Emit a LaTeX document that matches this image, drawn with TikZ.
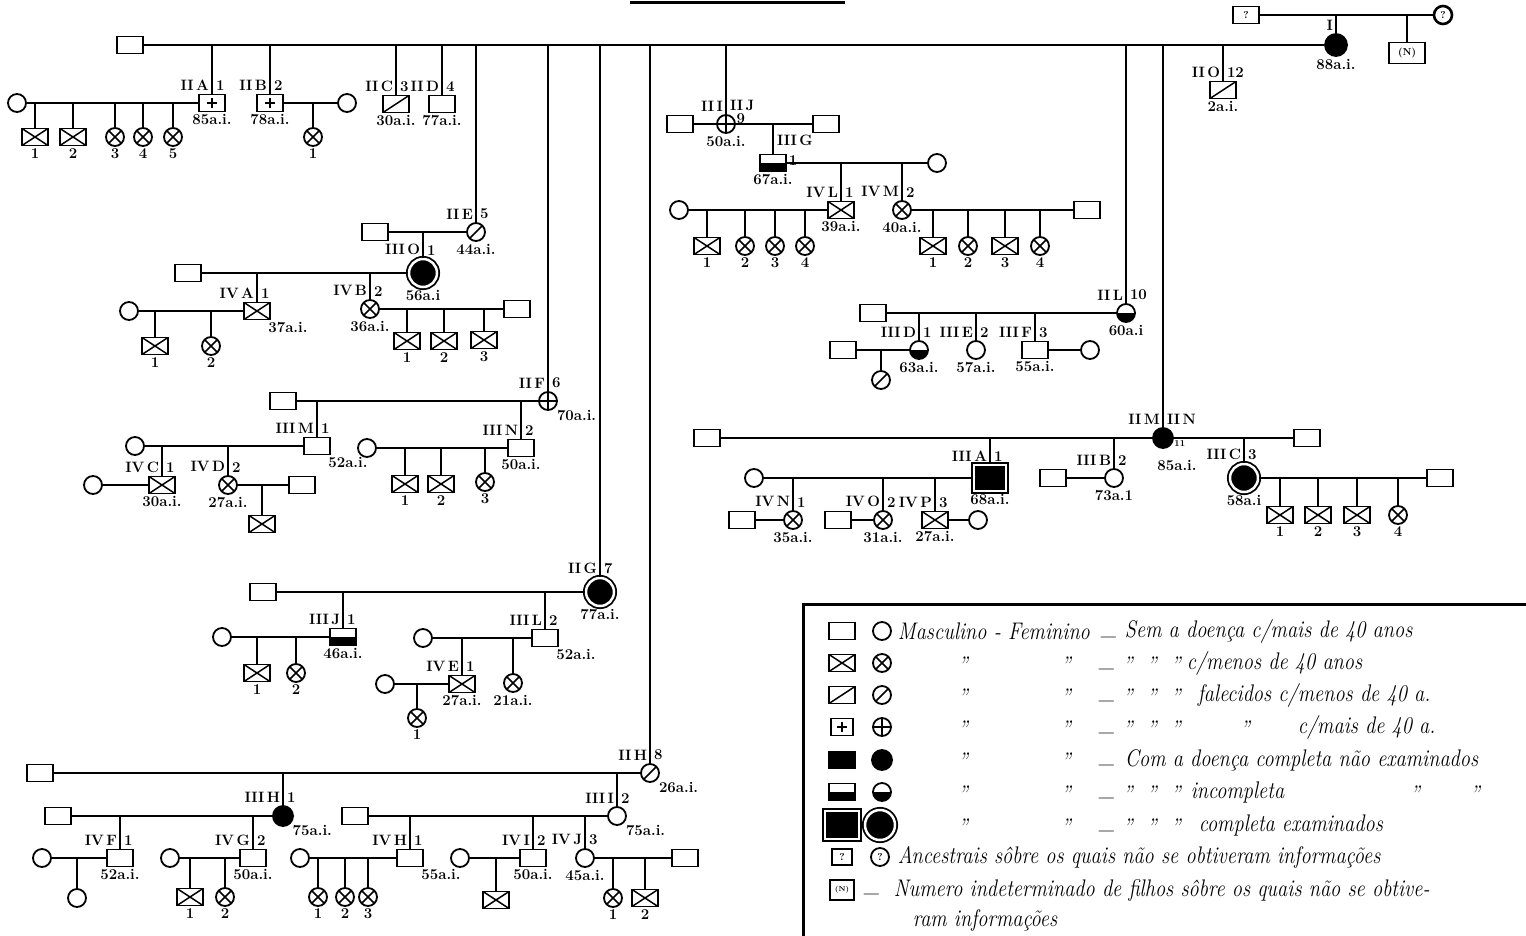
\documentclass[tikz,border=0pt]{standalone}
\usepackage{tikz}

\begin{document}
\begin{tikzpicture}[x=1pt, y=-1pt, line width=2,
  sq/.style={draw, line width=1.8, minimum width=26, minimum height=17, inner sep=0, font=\bfseries},
  ci/.style={draw, line width=1.8, circle, minimum size=18, inner sep=0, font=\bfseries},
  menos/.style={path picture={\draw[line width=1.5] (path picture bounding box.north west) -- (path picture bounding box.south east) (path picture bounding box.south west) -- (path picture bounding box.north east);}},
  morto/.style={path picture={\draw[line width=1.5] (path picture bounding box.south west) -- (path picture bounding box.north east);}},
  maism/.style={path picture={\draw[line width=1.5] ([xshift=-5]path picture bounding box.center) -- ([xshift=5]path picture bounding box.center) ([yshift=-5]path picture bounding box.center) -- ([yshift=5]path picture bounding box.center);}},
  maisf/.style={path picture={\draw[line width=1.5] (path picture bounding box.west) -- (path picture bounding box.east) (path picture bounding box.north) -- (path picture bounding box.south);}},
  doente/.style={fill=black},
  incomp/.style={path picture={\fill (path picture bounding box.west) rectangle (path picture bounding box.south east);}},
  exam/.style={fill=black, double=white, double distance=2.5, line width=1.8},
  lbl/.style={font=\fontsize{15}{16}\selectfont\bfseries, inner sep=1},
  gen/.style={label={[lbl, anchor=south east, xshift=-1, yshift=1]90:#1}},
  num/.style={label={[lbl, anchor=south west, xshift=2, yshift=1]90:#1}},
  age/.style={label={[lbl]-90:#1}},
  ager/.style={label={[lbl, anchor=north west]-45:#1}},
  leg/.style={font=\fontsize{24}{26}\selectfont\itshape, anchor=west, inner sep=0, xscale=0.85},
  dit/.style={leg, anchor=center}]
\useasboundingbox (0,0) rectangle (1526,935);
\draw[line width=3] (630,2) -- (845,2);

% geracao I e ancestrais
\node[sq] (q1) at (1246,15) {?};
\node[ci, line width=2.6] (q2) at (1443,15) {?};
\node[sq, minimum width=36, minimum height=21] (nn) at (1407,53) {(N)};
\node[ci, doente, minimum size=22, gen=I, age=88a.i.] (n1) at (1336,45) {};
\node[sq] (h0) at (130,45) {};
\draw (q1) -- (q2) (n1) -- (n1 |- q1) (nn) -- (nn |- q1);
\draw (h0) -- (n1);

% II A
\node[sq, maism, gen=II\,A, num=1, age=85a.i.] (n2a) at (212,103) {};
\node[ci] (c2a) at (17,103) {};
\node[sq, menos, age=1] (f2a1) at (35,137) {};
\node[sq, menos, age=2] (f2a2) at (73,137) {};
\node[ci, menos, age=3] (f2a3) at (115,137) {};
\node[ci, menos, age=4] (f2a4) at (143,137) {};
\node[ci, menos, age=5] (f2a5) at (173,137) {};
\draw (c2a) -- (n2a) (n2a) -- (n2a |- h0);
\draw (f2a1) -- (f2a1 |- c2a) (f2a2) -- (f2a2 |- c2a) (f2a3) -- (f2a3 |- c2a) (f2a4) -- (f2a4 |- c2a) (f2a5) -- (f2a5 |- c2a);

% II B, II C, II D
\node[sq, maism, gen=II\,B, num=2, age=78a.i.] (n2b) at (270,103) {};
\node[ci] (c2b) at (347,103) {};
\node[ci, menos, age=1] (f2b1) at (313,137) {};
\draw (n2b) -- (c2b) (n2b) -- (n2b |- h0) (f2b1) -- (f2b1 |- c2b);
\node[sq, morto, gen=II\,C, num=3, age=30a.i.] (n2c) at (396,104) {};
\node[sq, gen=II\,D, num=4, age=77a.i.] (n2d) at (442,104) {};
\draw (n2c) -- (n2c |- h0) (n2d) -- (n2d |- h0);

% II E
\node[ci, morto, gen=II\,E, num=5, age=44a.i.] (n2e) at (476,232) {};
\node[sq] (c2e) at (375,232) {};
\draw (c2e) -- (n2e) (n2e) -- (n2e |- h0);
\node[ci, exam, minimum size=28, gen=III\,O, num=1, age=56a.i] (n3o) at (423,273) {};
\node[sq] (c3o) at (188,273) {};
\draw (c3o) -- (n3o) (n3o) -- (n3o |- c2e);
\node[sq, menos, gen=IV\,A, num=1, ager=37a.i.] (n4a) at (257,311) {};
\node[ci] (c4a) at (129,311) {};
\node[sq, menos, age=1] (f4a1) at (155,346) {};
\node[ci, menos, age=2] (f4a2) at (211,346) {};
\draw (c4a) -- (n4a) (n4a) -- (n4a |- c3o) (f4a1) -- (f4a1 |- c4a) (f4a2) -- (f4a2 |- c4a);
\node[ci, menos, gen=IV\,B, num=2, age=36a.i.] (n4b) at (370,309) {};
\node[sq] (c4b) at (517,309) {};
\node[sq, menos, age=1] (f4b1) at (407,341) {};
\node[sq, menos, age=2] (f4b2) at (444,341) {};
\node[sq, menos, age=3] (f4b3) at (484,340) {};
\draw (n4b) -- (c4b) (n4b) -- (n4b |- c3o);
\draw (f4b1) -- (f4b1 |- c4b) (f4b2) -- (f4b2 |- c4b) (f4b3) -- (f4b3 |- c4b);

% II F
\node[ci, maisf, gen=II\,F, num=6, ager=70a.i.] (n2f) at (548,401) {};
\node[sq] (c2f) at (283,401) {};
\draw (c2f) -- (n2f) (n2f) -- (n2f |- h0);
\node[sq, gen=III\,M, num=1, ager=52a.i.] (n3m) at (317,446) {};
\node[ci] (c3m) at (135,446) {};
\draw (c3m) -- (n3m) (n3m) -- (n3m |- c2f);
\node[sq, menos, gen=IV\,C, num=1, age=30a.i.] (n4c) at (162,485) {};
\node[ci] (c4c) at (93,485) {};
\node[ci, menos, gen=IV\,D, num=2, age=27a.i.] (n4d) at (228,485) {};
\node[sq] (c4d) at (302,485) {};
\node[sq, menos] (f4d1) at (262,524) {};
\draw (c4c) -- (n4c) (n4c) -- (n4c |- c3m) (n4d) -- (c4d) (n4d) -- (n4d |- c3m) (f4d1) -- (f4d1 |- c4d);
\node[sq, gen=III\,N, num=2, age=50a.i.] (n3n) at (521,448) {};
\node[ci] (c3n) at (367,448) {};
\node[sq, menos, age=1] (f3n1) at (405,484) {};
\node[sq, menos, age=2] (f3n2) at (441,484) {};
\node[ci, menos, age=3] (f3n3) at (485,482) {};
\draw (c3n) -- (n3n) (n3n) -- (n3n |- c2f);
\draw (f3n1) -- (f3n1 |- c3n) (f3n2) -- (f3n2 |- c3n) (f3n3) -- (f3n3 |- c3n);

% II G
\node[ci, exam, minimum size=28, gen=II\,G, num=7, age=77a.i.] (n2g) at (600,592) {};
\node[sq] (c2g) at (263,592) {};
\draw (c2g) -- (n2g) (n2g) -- (n2g |- h0);
\node[sq, incomp, gen=III\,J, num=1, age=46a.i.] (n3j) at (343,637) {};
\node[ci] (c3j) at (222,637) {};
\node[sq, menos, age=1] (f3j1) at (257,673) {};
\node[ci, menos, age=2] (f3j2) at (296,673) {};
\draw (c3j) -- (n3j) (n3j) -- (n3j |- c2g) (f3j1) -- (f3j1 |- c3j) (f3j2) -- (f3j2 |- c3j);
\node[sq, gen=III\,L, num=2, ager=52a.i.] (n3l) at (545,638) {};
\node[ci] (c3l) at (423,638) {};
\node[sq, menos, gen=IV\,E, num=1, age=27a.i.] (n4e) at (462,684) {};
\node[ci] (c4e) at (385,684) {};
\node[ci, menos, age=1] (f4e1) at (417,718) {};
\node[ci, menos, age=21a.i.] (f3l2) at (513,683) {};
\draw (c3l) -- (n3l) (n3l) -- (n3l |- c2g) (n4e) -- (n4e |- c3l) (f3l2) -- (f3l2 |- c3l);
\draw (c4e) -- (n4e) (f4e1) -- (f4e1 |- c4e);

% II H
\node[ci, morto, gen=II\,H, num=8, ager=26a.i.] (n2h) at (650,773) {};
\node[sq] (c2h) at (40,773) {};
\draw (c2h) -- (n2h) (n2h) -- (n2h |- h0);
\node[ci, doente, minimum size=20, gen=III\,H, num=1, ager=75a.i.] (n3h) at (283,816) {};
\node[sq] (c3h) at (58,816) {};
\draw (c3h) -- (n3h) (n3h) -- (n3h |- c2h);
\node[sq, gen=IV\,F, num=1, age=52a.i.] (n4f) at (120,858) {};
\node[ci] (c4f) at (42,858) {};
\node[ci] (f4f1) at (77,898) {};
\draw (c4f) -- (n4f) (n4f) -- (n4f |- c3h) (f4f1) -- (f4f1 |- c4f);
\node[sq, gen=IV\,G, num=2, age=50a.i.] (n4g) at (253,858) {};
\node[ci] (c4g) at (170,858) {};
\node[sq, menos, age=1] (f4g1) at (190,897) {};
\node[ci, menos, age=2] (f4g2) at (225,897) {};
\draw (c4g) -- (n4g) (n4g) -- (n4g |- c3h) (f4g1) -- (f4g1 |- c4g) (f4g2) -- (f4g2 |- c4g);
\node[ci, gen=III\,I, num=2, ager=75a.i.] (n3i) at (617,816) {};
\node[sq] (c3i) at (355,816) {};
\draw (c3i) -- (n3i) (n3i) -- (n3i |- c2h);
\node[sq, gen=IV\,H, num=1, ager=55a.i.] (n4h) at (410,858) {};
\node[ci] (c4h) at (300,858) {};
\node[ci, menos, age=1] (f4h1) at (318,897) {};
\node[ci, menos, age=2] (f4h2) at (345,897) {};
\node[ci, menos, age=3] (f4h3) at (368,897) {};
\draw (c4h) -- (n4h) (n4h) -- (n4h |- c3i);
\draw (f4h1) -- (f4h1 |- c4h) (f4h2) -- (f4h2 |- c4h) (f4h3) -- (f4h3 |- c4h);
\node[sq, gen=IV\,I, num=2, age=50a.i.] (n4i) at (533,858) {};
\node[ci] (c4i) at (460,858) {};
\node[sq, menos] (f4i1) at (496,900) {};
\draw (c4i) -- (n4i) (n4i) -- (n4i |- c3i) (f4i1) -- (f4i1 |- c4i);
\node[ci, gen=IV\,J, num=3, age=45a.i.] (n4j) at (585,858) {};
\node[sq] (c4j) at (685,858) {};
\node[ci, menos, age=1] (f4j1) at (613,898) {};
\node[sq, menos, age=2] (f4j2) at (645,898) {};
\draw (n4j) -- (c4j) (n4j) -- (n4j |- c3i) (f4j1) -- (f4j1 |- c4j) (f4j2) -- (f4j2 |- c4j);

% II I / II J
\node[ci, maisf, gen=II\,I, num=II\,J, label={[lbl, anchor=west]30:9}, age=50a.i.] (n2i) at (726,124) {};
\node[sq] (c2i) at (680,124) {};
\node[sq] (c2j) at (826,124) {};
\draw (c2i) -- (n2i) (n2i) -- (c2j) (n2i) -- (n2i |- h0);
\node[sq, incomp, label={[lbl, anchor=south west, xshift=2, yshift=6]90:III\,G}, label={[lbl, anchor=west]10:1}, age=67a.i.] (n3g) at (773,163) {};
\node[ci] (c3g) at (937,163) {};
\draw (n3g) -- (c3g) (n3g) -- (n3g |- c2j);
\node[sq, menos, gen=IV\,L, num=1, age=39a.i.] (n4l) at (841,210) {};
\node[ci] (c4l) at (679,210) {};
\node[sq, menos, age=1] (f4l1) at (707,246) {};
\node[ci, menos, age=2] (f4l2) at (745,246) {};
\node[ci, menos, age=3] (f4l3) at (775,246) {};
\node[ci, menos, age=4] (f4l4) at (805,246) {};
\draw (c4l) -- (n4l) (n4l) -- (n4l |- c3g);
\draw (f4l1) -- (f4l1 |- c4l) (f4l2) -- (f4l2 |- c4l) (f4l3) -- (f4l3 |- c4l) (f4l4) -- (f4l4 |- c4l);
\node[ci, menos, gen=IV\,M, num=2, age=40a.i.] (n4m) at (902,210) {};
\node[sq] (c4m) at (1087,210) {};
\node[sq, menos, age=1] (f4m1) at (933,246) {};
\node[ci, menos, age=2] (f4m2) at (968,246) {};
\node[sq, menos, age=3] (f4m3) at (1005,246) {};
\node[ci, menos, age=4] (f4m4) at (1040,246) {};
\draw (n4m) -- (c4m) (n4m) -- (n4m |- c3g);
\draw (f4m1) -- (f4m1 |- c4m) (f4m2) -- (f4m2 |- c4m) (f4m3) -- (f4m3 |- c4m) (f4m4) -- (f4m4 |- c4m);

% II L
\node[ci, incomp, gen=II\,L, num=10, age=60a.i] (n2l) at (1126,313) {};
\node[sq] (c2l) at (873,313) {};
\draw (c2l) -- (n2l) (n2l) -- (n2l |- h0);
\node[ci, incomp, gen=III\,D, num=1, age=63a.i.] (n3d) at (919,350) {};
\node[sq] (c3d) at (843,350) {};
\node[ci, morto] (f3d1) at (881,380) {};
\node[ci, gen=III\,E, num=2, age=57a.i.] (n3e) at (976,350) {};
\node[sq, gen=III\,F, num=3, age=55a.i.] (n3f) at (1035,350) {};
\node[ci] (c3f) at (1090,350) {};
\draw (c3d) -- (n3d) (n3d) -- (n3d |- c2l) (f3d1) -- (f3d1 |- c3d);
\draw (n3e) -- (n3e |- c2l) (n3f) -- (n3f |- c2l) (n3f) -- (c3f);

% II M / II N
\node[ci, doente, minimum size=20, gen=II\,M, num=II\,N, label={[lbl, anchor=west, font=\fontsize{9}{9}\selectfont\bfseries]-30:11}, label={[lbl, anchor=north, xshift=14, yshift=-9]-90:85a.i.}] (n2m) at (1163,438) {};
\node[sq] (c2m) at (707,438) {};
\node[sq] (c2n) at (1307,438) {};
\draw (c2m) -- (n2m) (n2m) -- (c2n) (n2m) -- (n2m |- h0);
\node[sq, exam, minimum width=32, minimum height=26, gen=III\,A, num=1, age=68a.i.] (n3a) at (990,478) {};
\node[ci] (c3a) at (754,478) {};
\draw (c3a) -- (n3a) (n3a) -- (n3a |- c2m);
\node[ci, menos, gen=IV\,N, num=1, age=35a.i.] (n4n) at (793,520) {};
\node[sq] (c4n) at (742,520) {};
\node[ci, menos, gen=IV\,O, num=2, age=31a.i.] (n4o) at (883,520) {};
\node[sq] (c4o) at (838,520) {};
\node[sq, menos, gen=IV\,P, num=3, age=27a.i.] (n4p) at (935,520) {};
\node[ci] (c4p) at (978,520) {};
\draw (c4n) -- (n4n) (n4n) -- (n4n |- c3a) (c4o) -- (n4o) (n4o) -- (n4o |- c3a);
\draw (n4p) -- (c4p) (n4p) -- (n4p |- c3a);
\node[ci, gen=III\,B, num=2, age=73a.1] (n3b) at (1114,478) {};
\node[sq] (c3b) at (1053,478) {};
\draw (c3b) -- (n3b) (n3b) -- (n3b |- c2m);
\node[ci, exam, minimum size=28, gen=III\,C, num=3, age=58a.i] (n3c) at (1244,478) {};
\node[sq] (c3c) at (1440,478) {};
\node[sq, menos, age=1] (f3c1) at (1280,515) {};
\node[sq, menos, age=2] (f3c2) at (1318,515) {};
\node[sq, menos, age=3] (f3c3) at (1357,515) {};
\node[ci, menos, age=4] (f3c4) at (1398,515) {};
\draw (n3c) -- (c3c) (n3c) -- (n3c |- c2m);
\draw (f3c1) -- (f3c1 |- c3c) (f3c2) -- (f3c2 |- c3c) (f3c3) -- (f3c3 |- c3c) (f3c4) -- (f3c4 |- c3c);

% II O
\node[sq, morto, gen=II\,O, num=12, age=2a.i.] (n2o) at (1223,90) {};
\draw (n2o) -- (n2o |- h0);

% legenda
\draw[line width=3] (803,940) -- (803,604) -- (1530,604);
\node[sq] (ls1) at (842,631) {};
\node[ci] (lc1) at (882,631) {};
\node[sq, menos] (ls2) at (842,663) {};
\node[ci, menos] (lc2) at (882,663) {};
\node[sq, morto] (ls3) at (842,695) {};
\node[ci, morto] (lc3) at (882,695) {};
\node[sq, maism, minimum width=22] (ls4) at (842,727) {};
\node[ci, maisf] (lc4) at (882,727) {};
\node[sq, doente] (ls5) at (842,760) {};
\node[ci, doente, minimum size=20] (lc5) at (882,760) {};
\node[sq, incomp] (ls6) at (842,792) {};
\node[ci, incomp] (lc6) at (882,792) {};
\node[sq, exam, minimum width=34, minimum height=28] (ls7) at (842,825) {};
\node[ci, exam, minimum size=30] (lc7) at (880,825) {};
\node[sq, minimum width=20, minimum height=16] (ls8) at (842,857) {?};
\node[ci] (lc8) at (880,857) {?};
\node[sq, minimum width=24, minimum height=20, font=\scriptsize\bfseries] (ls9) at (842,890) {(N)};

\node[leg] (lt1) at (897,631) {Masculino - Feminino};
\node[dit] (lu1) at (1109,636) {\_};
\node[leg] (lv1) at (1124,631) {Sem a doença c/mais de 40 anos};
\node[dit] (la2) at (963,665) {''};
\node[dit] (lb2) at (1066,665) {''};
\node[dit] (lu2) at (1107,668) {\_};
\node[leg] (ld2) at (1122,665) {'' \ '' \ ''};
\node[leg] (lv2) at (1186,663) {c/menos de 40 anos};
\node[dit] (la3) at (963,697) {''};
\node[dit] (lb3) at (1066,697) {''};
\node[dit] (lu3) at (1107,700) {\_};
\node[leg] (ld3) at (1122,697) {'' \ '' \ ''};
\node[leg] (lv3) at (1197,695) {falecidos c/menos de 40 a.};
\node[dit] (la4) at (963,729) {''};
\node[dit] (lb4) at (1066,729) {''};
\node[dit] (lu4) at (1107,732) {\_};
\node[leg] (ld4) at (1122,729) {'' \ '' \ ''};
\node[dit] (le4) at (1245,729) {''};
\node[leg] (lv4) at (1297,727) {c/mais de 40 a.};
\node[dit] (la5) at (963,761) {''};
\node[dit] (lb5) at (1066,761) {''};
\node[dit] (lu5) at (1107,764) {\_};
\node[leg] (lv5) at (1124,760) {Com a doença completa não examinados};
\node[dit] (la6) at (963,794) {''};
\node[dit] (lb6) at (1066,794) {''};
\node[dit] (lu6) at (1107,797) {\_};
\node[leg] (ld6) at (1122,794) {'' \ '' \ ''};
\node[leg] (lv6) at (1190,792) {incompleta};
\node[dit] (le6) at (1415,794) {''};
\node[dit] (lf6) at (1475,794) {''};
\node[dit] (la7) at (963,827) {''};
\node[dit] (lb7) at (1066,827) {''};
\node[dit] (lu7) at (1107,830) {\_};
\node[leg] (ld7) at (1122,827) {'' \ '' \ ''};
\node[leg] (lv7) at (1198,825) {completa examinados};
\node[leg] (lt8) at (897,857) {Ancestrais sôbre os quais não se obtiveram informações};
\node[dit] (lu9) at (872,893) {\_};
\node[leg] (lt9) at (893,890) {Numero indeterminado de filhos sôbre os quais não se obtive-};
\node[leg] (lt10) at (912,920) {ram informações};
\end{tikzpicture}
\end{document}
